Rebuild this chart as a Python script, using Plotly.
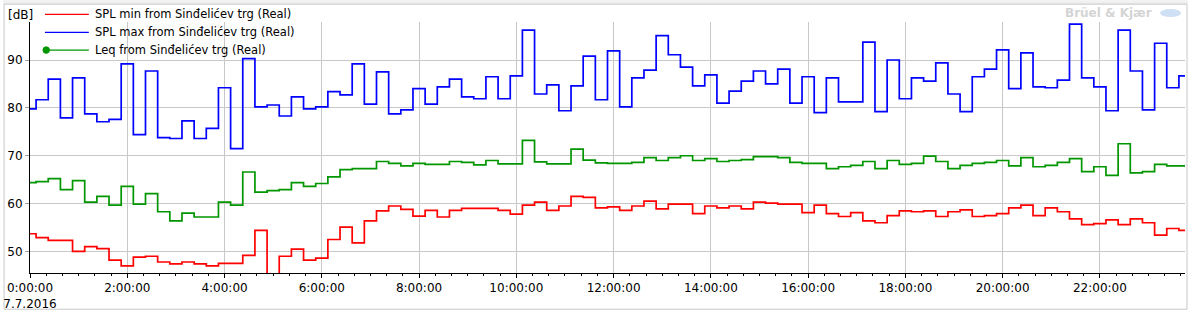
import pandas as pd
import plotly.graph_objects as go

# ---- data (15-minute values, 7.7.2016) ----
start = "2016-07-07 00:00:00"
n_points = 96
times = pd.date_range(start, periods=n_points, freq="15min")

spl_min = [53.7, 52.9, 52.3, 52.3, 50.0, 51.0, 50.6, 48.2, 47.0, 48.8, 49.0, 47.8,
           47.4, 47.8, 47.4, 47.0, 47.5, 47.5, 49.2, 54.4, 42.0, 49.0, 50.5, 48.2,
           48.6, 52.5, 55.1, 51.8, 56.4, 58.5, 59.5, 58.8, 57.4, 58.6, 57.2, 58.6,
           59.0, 59.0, 59.0, 58.6, 57.8, 59.7, 60.3, 58.6, 59.5, 61.5, 61.3, 59.1,
           59.3, 58.6, 59.5, 60.5, 58.9, 59.9, 59.9, 57.9, 59.5, 59.1, 59.5, 58.9,
           60.3, 60.1, 59.9, 59.9, 58.1, 59.7, 57.9, 57.3, 58.1, 56.4, 56.0, 57.5,
           58.5, 58.3, 58.5, 57.3, 58.3, 58.7, 57.3, 57.5, 57.9, 59.1, 59.7, 57.5,
           59.1, 58.3, 56.8, 55.6, 55.8, 56.6, 55.6, 56.8, 56.0, 53.4, 54.8, 54.4]

spl_max = [79.8, 81.7, 86.0, 77.9, 86.25, 78.75, 77.1, 77.6, 89.2, 74.4, 87.7, 73.8,
           73.6, 77.3, 73.6, 75.7, 84.2, 71.5, 90.3, 80.2, 80.6, 78.3, 82.3, 79.8,
           80.2, 83.4, 82.7, 89.2, 80.8, 87.5, 78.75, 79.6, 84.0, 80.8, 84.4, 86.0,
           82.3, 81.9, 86.5, 81.9, 86.7, 96.25, 82.9, 84.8, 79.4, 84.6, 90.8, 81.7,
           91.9, 80.2, 86.25, 87.9, 95.1, 91.1, 88.5, 84.6, 86.9, 81.0, 83.5, 85.6,
           87.7, 85.0, 88.1, 81.0, 86.5, 79.0, 86.25, 81.25, 81.25, 93.75, 79.2, 90.0,
           81.9, 86.25, 85.6, 89.4, 82.9, 79.2, 86.5, 88.1, 92.1, 84.0, 91.5, 84.4,
           84.2, 85.8, 97.5, 86.25, 84.4, 79.4, 96.25, 87.7, 79.6, 93.5, 84.2, 86.7]

leq = [64.4, 64.6, 65.2, 62.9, 64.8, 60.3, 61.5, 59.7, 63.6, 59.9, 62.1, 58.3,
       56.4, 58.0, 57.2, 57.2, 60.3, 59.7, 66.6, 62.4, 62.7, 62.9, 64.4, 63.6,
       64.2, 65.6, 67.1, 67.3, 67.3, 68.8, 68.4, 67.9, 68.4, 68.2, 68.2, 68.8,
       68.6, 68.1, 69.0, 68.3, 68.3, 73.2, 68.7, 68.3, 68.3, 71.4, 69.1, 68.5,
       68.4, 68.4, 68.6, 69.6, 69.0, 69.6, 70.0, 69.0, 69.4, 68.8, 69.0, 69.2,
       69.8, 69.8, 69.6, 68.6, 68.4, 68.4, 67.3, 67.7, 68.0, 68.8, 67.3, 69.0,
       68.2, 68.4, 69.9, 68.8, 67.3, 68.0, 68.4, 68.6, 69.0, 67.9, 69.6, 67.7,
       68.0, 68.6, 69.4, 66.7, 67.7, 65.9, 72.5, 66.4, 66.7, 68.2, 67.9, 67.9]

series_names = ["SPL min from Sinđelićev trg (Real)",
                "SPL max from Sinđelićev trg (Real)",
                "Leq from Sinđelićev trg (Real)"]
series_colors = ["#ff0000", "#0000ff", "#009600"]

tick_labels = ["0:00:00", "2:00:00", "4:00:00", "6:00:00", "8:00:00", "10:00:00",
               "12:00:00", "14:00:00", "16:00:00", "18:00:00", "20:00:00", "22:00:00"]
date_label = "7.7.2016"
y_ticks = [50, 60, 70, 80, 90]
unit_label = "[dB]"
brand = "Brüel & Kjær"

# ---- figure ----
W, H = 1188, 314
ML, MR, MT, MB = 27, 3, 22, 39
PW, PH = W - ML - MR, H - MT - MB
FONT = "DejaVu Sans"


def px_x(px):
    return (px - ML) / PW


def px_y(py):
    return (H - MB - py) / PH


fig = go.Figure()
for vals, name, col in zip([spl_min, spl_max, leq], series_names, series_colors):
    fig.add_trace(go.Scatter(x=times, y=vals, mode="lines", name=name,
                             line=dict(color=col, width=1.7, shape="hvh"),
                             showlegend=False))

tick_vals = [pd.Timestamp(start) + pd.Timedelta(hours=2 * k) for k in range(len(tick_labels))]
tick_text = [tick_labels[0] + "<br>" + date_label] + tick_labels[1:]

fig.update_xaxes(
    range=[times[0], times[-1]],
    tickmode="array", tickvals=tick_vals, ticktext=tick_text,
    showgrid=True, gridcolor="#c8c8c8", gridwidth=1,
    showline=True, linecolor="black", linewidth=1,
    ticks="outside", ticklen=4, tickcolor="black",
    minor=dict(dtick=20 * 60 * 1000, tick0=start, ticks="outside", ticklen=2,
               tickcolor="black", showgrid=False),
    tickfont=dict(family=FONT, size=12, color="black"),
    zeroline=False,
)
fig.update_yaxes(
    range=[45.5, 97.94],
    tickmode="array", tickvals=y_ticks,
    showgrid=True, gridcolor="#c8c8c8", gridwidth=1,
    showline=True, linecolor="black", linewidth=1,
    ticks="outside", ticklen=4, tickcolor="#a0a0a0",
    tickfont=dict(family=FONT, size=12, color="black"),
    zeroline=False,
)

shapes = []
annotations = []
# frame
shapes.append(dict(type="rect", xref="paper", yref="paper", x0=px_x(0), x1=px_x(W), y0=px_y(0), y1=px_y(4),
                   fillcolor="#f0f0f0", line=dict(width=0), layer="below"))
shapes.append(dict(type="rect", xref="paper", yref="paper", x0=px_x(1), x1=px_x(1187), y0=px_y(4), y1=px_y(311.5),
                   fillcolor="rgba(0,0,0,0)", line=dict(color="#c8c8c8", width=1), layer="below"))

# manual legend
leg_rows = [14.3, 32.5, 50.3]
for i, (name, col, ry) in enumerate(zip(series_names, series_colors, leg_rows)):
    shapes.append(dict(type="line", xref="paper", yref="paper", x0=px_x(42), x1=px_x(86),
                       y0=px_y(ry), y1=px_y(ry), line=dict(color=col, width=1.2)))
    annotations.append(dict(xref="paper", yref="paper", x=px_x(90), y=px_y(ry), text=name,
                            showarrow=False, xanchor="left", yanchor="middle",
                            font=dict(family=FONT, size=11.5, color="black")))
# Leq legend marker dot
shapes.append(dict(type="circle", xref="paper", yref="paper", x0=px_x(40), x1=px_x(46.5),
                   y0=px_y(leg_rows[2] - 3.3), y1=px_y(leg_rows[2] + 3.3),
                   fillcolor=series_colors[2], line=dict(color=series_colors[2], width=1)))

annotations.append(dict(xref="paper", yref="paper", x=px_x(3), y=px_y(14.5), text=unit_label,
                        showarrow=False, xanchor="left", yanchor="middle",
                        font=dict(family=FONT, size=12, color="black")))
annotations.append(dict(xref="paper", yref="paper", x=px_x(1154), y=px_y(13), text="<b>" + brand + "</b>",
                        showarrow=False, xanchor="right", yanchor="middle",
                        font=dict(family=FONT, size=12, color="#d4d4d4")))
shapes.append(dict(type="circle", xref="paper", yref="paper", x0=px_x(1160), x1=px_x(1181),
                   y0=px_y(9), y1=px_y(17), fillcolor="#cfe0f5", line=dict(width=0)))

fig.update_layout(
    width=W, height=H,
    margin=dict(l=ML, r=MR, t=MT, b=MB, pad=0),
    paper_bgcolor="white", plot_bgcolor="white",
    shapes=shapes, annotations=annotations,
    showlegend=False,
)

fig.write_html("out.html")
